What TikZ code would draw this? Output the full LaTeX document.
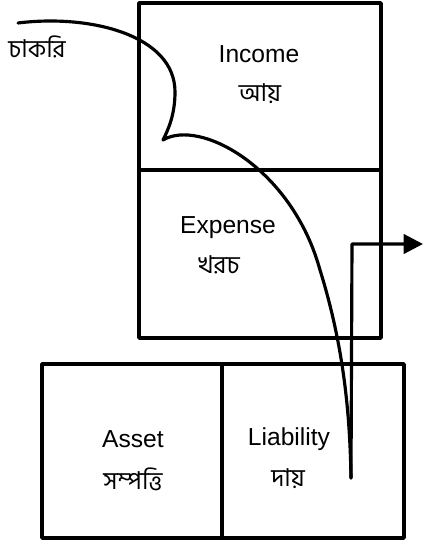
\documentclass[tikz,border=0pt]{standalone}
\usepackage{fontspec}
\setmainfont{Liberation Sans}
\newfontfamily\bn[Script=Bengali]{Hind Siliguri}
\usetikzlibrary{arrows.meta}

\begin{document}
\begin{tikzpicture}[x=0.02cm,y=-0.02cm,line join=round,
    box/.style={line width=2.1pt},
    flow/.style={line width=1.8pt,line cap=round},
    lbl/.style={font=\fontsize{14}{16}\selectfont, inner sep=0pt},
    bnlbl/.style={font=\bn\fontsize{14}{16}\selectfont, inner sep=0pt}]
\useasboundingbox (0,0) rectangle (425,542);
% the top box, income on top and expense below
\draw[box] (139,3) rectangle (381,338);
\draw[box] (139,170) -- (381,170);
% the bottom boxes, asset and liability side by side
\draw[box] (42,364) rectangle (404,538);
\draw[box] (222,364) -- (222,538);
% labels
\node[bnlbl] (job) at (37,47) {চাকরি};
\node[lbl] (income) at (259,54) {Income};
\node[bnlbl] (incomebn) at (260,94) {আয়};
\node[lbl] (expense) at (228,228) {Expense};
\node[bnlbl] (expensebn) at (219,265) {খরচ};
\node[lbl] (asset) at (133,439) {Asset};
\node[bnlbl] (assetbn) at (133,479) {সম্পত্তি};
\node[lbl] (liability) at (289,439) {Liability};
\node[bnlbl] (liabilitybn) at (288,479) {দায়};
% the path of the money
\coordinate (start) at (18,23);
\coordinate (cusp) at (163,140);
\coordinate (bend) at (320,270);
\coordinate (drop) at (351,478);
\coordinate (turn) at (352,244);
\coordinate (out) at (423,244);
\draw[flow] (start) .. controls (90,14) and (175,35) .. (175,92)
    .. controls (175,115) and (168,130) .. (cusp)
    .. controls (200,118) and (292,168) .. (bend)
    .. controls (345,350) and (350,420) .. (drop);
\draw[flow,-{Triangle[length=11pt,width=11pt]}] (drop) -- (turn) -- (out);
\end{tikzpicture}
\end{document}
